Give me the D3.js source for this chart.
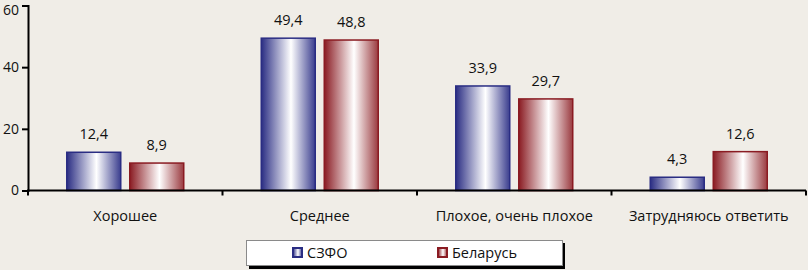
<!DOCTYPE html>
<html><head><meta charset="utf-8">
<script src="https://cdn.jsdelivr.net/npm/d3@7"></script>
<style>
html,body{margin:0;padding:0;background:#f0ede7;}
svg{display:block;}
text{font-family:"Open Sans",sans-serif;fill:#111;}
</style></head><body>
<svg id="c" width="808" height="270"></svg>
<script>
const categories = ["Хорошее","Среднее","Плохое, очень плохое","Затрудняюсь ответить"];
const seriesNames = ["СЗФО","Беларусь"];
const valuesSZFO = [12.4, 49.4, 33.9, 4.3];
const valuesBelarus = [8.9, 48.8, 29.7, 12.6];
const yTicks = [0,20,40,60];
const seriesValues = [valuesSZFO, valuesBelarus];
const edgeColors = ["#2a2d83","#8a1b22"];
const edgeColors2 = ["#3a3d8e","#9a3a3f"];
const FS = "14.5px";

const svg = d3.select("#c");
const W = 808, H = 270;
svg.append("rect").attr("width",W).attr("height",H).attr("fill","#f0ede7");

const x0 = d3.scaleBand().domain(categories).range([28, 806]).paddingInner(0).paddingOuter(0);
const y = d3.scaleLinear().domain([0,60]).range([190.5, 5.5]);
const barW = 54, gap = 9;

const defs = svg.append("defs");
seriesNames.forEach((s,i)=>{
  const g = defs.append("linearGradient").attr("id","g"+i).attr("x1","0%").attr("x2","100%").attr("y1","0%").attr("y2","0%");
  g.append("stop").attr("offset","0%").attr("stop-color",edgeColors[i]);
  g.append("stop").attr("offset","55%").attr("stop-color","#ffffff");
  g.append("stop").attr("offset","100%").attr("stop-color",edgeColors2[i]);
});

// bars
seriesValues.forEach((vals,si)=>{
  svg.append("g").selectAll("rect").data(vals).join("rect")
    .attr("x",(d,i)=> x0(categories[i]) + x0.bandwidth()/2 - (barW + gap/2) + si*(barW+gap))
    .attr("y",d=>y(d))
    .attr("width",barW)
    .attr("height",d=>y(0)-y(d))
    .attr("fill","url(#g"+si+")")
    .attr("stroke",edgeColors[si]).attr("stroke-width",1.5);
  svg.append("g").selectAll("text").data(vals).join("text")
    .attr("x",(d,i)=> x0(categories[i]) + x0.bandwidth()/2 - (barW + gap/2) + si*(barW+gap) + barW/2)
    .attr("y",d=>y(d)-13)
    .attr("text-anchor","middle")
    .attr("font-size",FS)
    .text(d=>d3.format(".1f")(d).replace(".",","));
});

// y axis
const yAxis = d3.axisLeft(y).tickValues(yTicks).tickSize(6).tickPadding(3).tickFormat(d3.format("d"));
const gy = svg.append("g").attr("transform","translate(28,0)").call(yAxis);
gy.select(".domain").attr("stroke","#000").attr("stroke-width",2);
gy.selectAll(".tick line").attr("stroke","#000").attr("stroke-width",2);
gy.selectAll(".tick text").attr("font-size","14px").attr("font-family","Open Sans").attr("fill","#111");
gy.selectAll(".tick text").filter(d=>+d===60).attr("dy","0.32em").attr("y",5);

// x axis
const xTickPos = categories.map(c=>x0(c)).concat([x0.range()[1]]);
const gx = svg.append("g");
gx.append("line").attr("x1",27).attr("x2",806).attr("y1",y(0)).attr("y2",y(0)).attr("stroke","#000").attr("stroke-width",2);
gx.selectAll("line.t").data(xTickPos).join("line").attr("class","t")
  .attr("x1",d=>d).attr("x2",d=>d).attr("y1",y(0)).attr("y2",y(0)+5).attr("stroke","#000").attr("stroke-width",2);
gx.selectAll("text").data(categories).join("text")
  .attr("x",d=>x0(d)+x0.bandwidth()/2).attr("y",221)
  .attr("text-anchor","middle").attr("font-size",FS).text(d=>d);

// legend
const lg = svg.append("g");
lg.append("rect").attr("x",249).attr("y",243).attr("width",316).attr("height",26).attr("fill","#000");
lg.append("rect").attr("x",246.5).attr("y",240.5).attr("width",316).attr("height",25).attr("fill","#fff").attr("stroke","#8a8a8a").attr("stroke-width",1);
const legX = [293, 438];
seriesNames.forEach((s,i)=>{
  lg.append("rect").attr("x",legX[i]).attr("y",248).attr("width",9).attr("height",9)
    .attr("fill","url(#g"+i+")").attr("stroke",edgeColors[i]).attr("stroke-width",2);
  lg.append("text").attr("x",legX[i]+14).attr("y",258).attr("font-size",FS).text(s);
});
</script>
</body></html>
